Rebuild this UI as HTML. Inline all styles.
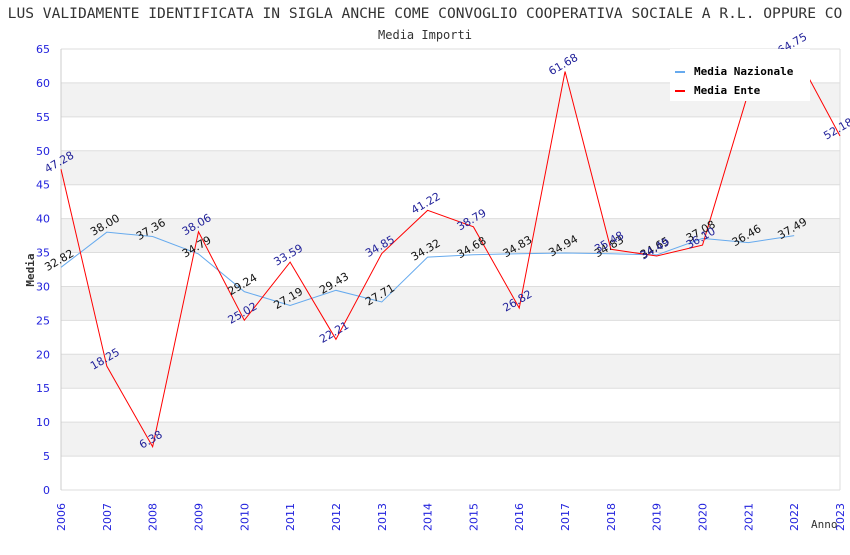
<!DOCTYPE html>
<html><head><meta charset="utf-8"><style>
body{margin:0;background:#fff;width:850px;height:550px;overflow:hidden}
.sans{font-family:"DejaVu Sans","Liberation Sans",sans-serif}
.mono{font-family:"DejaVu Sans Mono","Liberation Mono",monospace}
</style></head><body>
<svg id="chart" width="850" height="550" xmlns="http://www.w3.org/2000/svg">
<text class="mono" x="425" y="18" text-anchor="middle" font-size="14.6" fill="#333">LUS VALIDAMENTE IDENTIFICATA IN SIGLA ANCHE COME CONVOGLIO COOPERATIVA SOCIALE A R.L. OPPURE CO</text>
<text class="mono" x="425" y="39" text-anchor="middle" font-size="12" fill="#333">Media Importi</text>
<g id="grid"></g><g id="axes"></g><g id="series"></g><g id="labels"></g>
<text class="mono" x="34" y="270" transform="rotate(-90 34 270)" text-anchor="middle" font-size="11" font-weight="bold" fill="#333">Media</text>
<text class="mono" x="811" y="528" font-size="11" fill="#333">Anno</text>
<g>
<rect x="670" y="49" width="140" height="52" fill="#fff"/>
<rect x="675" y="71" width="10" height="2" fill="#66aaee"/>
<text class="mono" x="694" y="75" font-size="11" font-weight="bold" fill="#000">Media Nazionale</text>
<rect x="675" y="90" width="10" height="2" fill="#ff0000"/>
<text class="mono" x="694" y="94" font-size="11" font-weight="bold" fill="#000">Media Ente</text>
</g>
</svg>
<script>
const years=[2006,2007,2008,2009,2010,2011,2012,2013,2014,2015,2016,2017,2018,2019,2020,2021,2022,2023];
const nazionale=[32.82,38.00,37.36,34.79,29.24,27.19,29.43,27.71,34.32,34.68,34.83,34.94,34.83,34.65,37.08,36.46,37.49];
const ente=[47.28,18.25,6.38,38.06,25.02,33.59,22.21,34.85,41.22,38.79,26.82,61.68,35.48,34.49,36.10,58.6,64.75,52.18];
const entePrinted=["47.28","18.25","6.38","38.06","25.02","33.59","22.21","34.85","41.22","38.79","26.82","61.68","35.48","34.49","36.10","","64.75","52.18"];
const yTicks=[0,5,10,15,20,25,30,35,40,45,50,55,60,65];
const X0=61,X1=840,Y0=490,Y1=49;
const xs=i=>X0+(X1-X0)*i/(years.length-1);
const ys=v=>Y0-(Y0-Y1)*v/65;
const NS="http://www.w3.org/2000/svg";
function mk(t,a,p){const e=document.createElementNS(NS,t);for(const k in a)e.setAttribute(k,a[k]);p.appendChild(e);return e;}
const grid=document.getElementById('grid'),axes=document.getElementById('axes'),ser=document.getElementById('series'),lab=document.getElementById('labels');
for(let i=0;i<yTicks.length-1;i++){if(i%2==1){const r=mk('rect',{x:X0,y:ys(yTicks[i+1]),width:X1-X0,height:ys(yTicks[i])-ys(yTicks[i+1]),fill:'#f2f2f2'},grid);

}}
yTicks.forEach(v=>{const l=mk('line',{x1:X0,x2:X1,y1:ys(v),y2:ys(v),stroke:'#ddd'},grid);


const t=mk('text',{class:'sans',x:50,y:ys(v)+4,'text-anchor':'end','font-size':11,fill:'#2222dd'},axes);t.textContent=v;

});
mk('line',{x1:X0,x2:X0,y1:Y1,y2:Y0,stroke:'#ccc'},axes);
mk('line',{x1:X1,x2:X1,y1:Y1,y2:Y0,stroke:'#ddd'},axes);
years.forEach((y,i)=>{const x=xs(i);const t=mk('text',{class:'sans',x:x+4,y:531,'text-anchor':'start','font-size':11,fill:'#2222dd',transform:`rotate(-90 ${x+4} 531)`},axes);t.textContent=y;

});
function line(vals,color,name){const p=mk('polyline',{points:vals.map((v,i)=>xs(i)+','+ys(v)).join(' '),fill:'none',stroke:color,'stroke-width':1},ser);

}
line(nazionale,'#66aaee','line-media-nazionale');
line(ente,'#ff0000','line-media-ente');
function labels(vals,txt,color,name){vals.forEach((v,i)=>{if(txt[i]==='')return;const x=xs(i),y=ys(v)-4;const t=mk('text',{class:'sans',x:x,y:y,'text-anchor':'middle','font-size':11,fill:color,transform:`rotate(-30 ${x} ${y})`},lab);t.textContent=txt[i];

});}
labels(nazionale,nazionale.map(v=>v.toFixed(2)),'#111','value-label-nazionale');
labels(ente,entePrinted,'#22229a','value-label-ente');
</script>
</body></html>
